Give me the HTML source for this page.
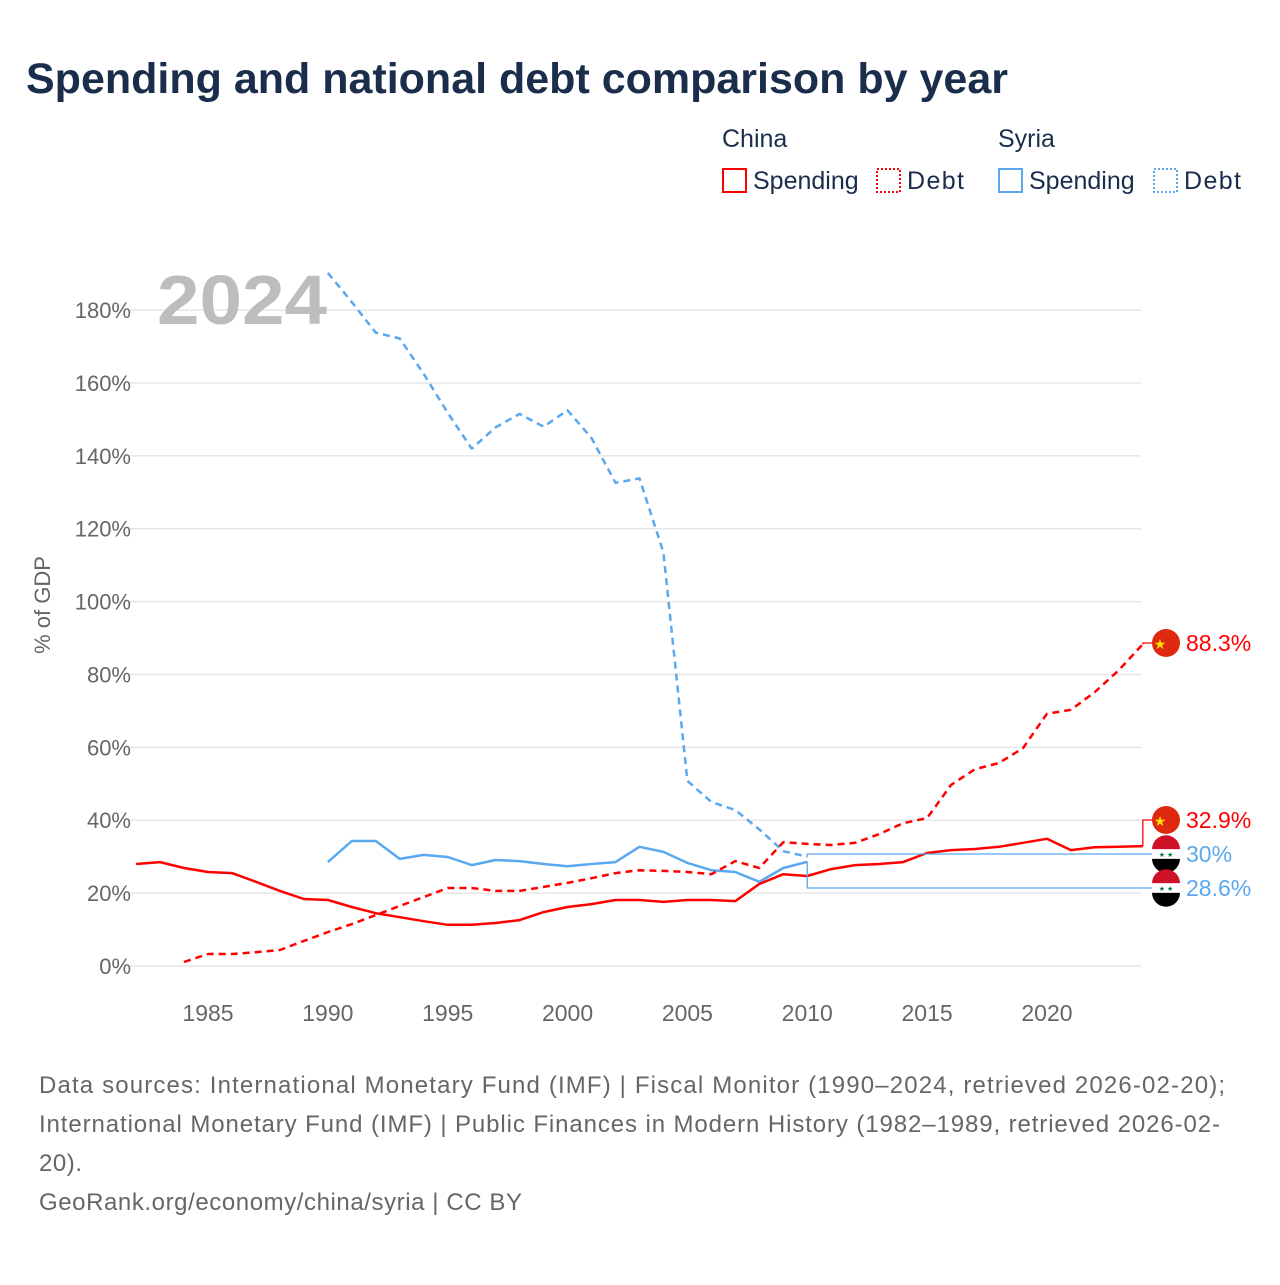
<!DOCTYPE html>
<html><head><meta charset="utf-8"><style>
body{margin:0;background:#fff;font-family:"Liberation Sans",sans-serif;}
svg text{font-family:"Liberation Sans",sans-serif;}
</style></head><body>
<svg width="1280" height="1280" viewBox="0 0 1280 1280" xmlns="http://www.w3.org/2000/svg">
<text x="26" y="93" font-size="43" font-weight="bold" fill="#1a2e4c">Spending and national debt comparison by year</text>
<g font-size="25" fill="#1a2e4c">
<text x="722" y="147" fill="#1a2e4c">China</text>
<text x="998" y="147" fill="#1a2e4c">Syria</text>
<g><rect x="723" y="169" width="23" height="23" fill="none" stroke="#f00" stroke-width="2"/><text x="753" y="189" fill="#1a2e4c">Spending</text></g>
<g><rect x="877" y="169" width="23" height="23" fill="none" stroke="#f00" stroke-width="2" stroke-dasharray="2,2"/><text x="907" y="189" fill="#1a2e4c" textLength="57">Debt</text></g>
<g><rect x="999" y="169" width="23" height="23" fill="none" stroke="#5aa8ee" stroke-width="2"/><text x="1029" y="189" fill="#1a2e4c">Spending</text></g>
<g><rect x="1154" y="169" width="23" height="23" fill="none" stroke="#5aa8ee" stroke-width="2" stroke-dasharray="2,2"/><text x="1184" y="189" fill="#1a2e4c" textLength="57">Debt</text></g>
</g>
<g id="grid"></g>
<text x="157" y="324" font-size="70" font-weight="bold" fill="#bdbdbd" textLength="170" lengthAdjust="spacingAndGlyphs">2024</text>
<text transform="translate(50,605) rotate(-90)" text-anchor="middle" font-size="22" fill="#666">% of GDP</text>
<g id="series"></g>
<g id="labels"></g>
<g font-size="24" fill="#666">
<text x="39" y="1093" textLength="1186">Data sources: International Monetary Fund (IMF) | Fiscal Monitor (1990–2024, retrieved 2026-02-20);</text>
<text x="39" y="1132" textLength="1181">International Monetary Fund (IMF) | Public Finances in Modern History (1982–1989, retrieved 2026-02-</text>
<text x="39" y="1171" textLength="43">20).</text>
<text x="39" y="1210" textLength="483">GeoRank.org/economy/china/syria | CC BY</text>
</g>
</svg>
<script>
const yTicks=[0,20,40,60,80,100,120,140,160,180];
const xTicks=[1985,1990,1995,2000,2005,2010,2015,2020];
const chinaSpendStart=1982;
const chinaSpend=[28.0,28.5,26.9,25.8,25.5,23.1,20.6,18.4,18.1,16.2,14.5,13.4,12.3,11.3,11.3,11.8,12.6,14.8,16.2,17.0,18.1,18.1,17.6,18.1,18.1,17.8,22.5,25.2,24.7,26.6,27.7,28.0,28.5,31.0,31.8,32.1,32.7,33.8,34.9,31.8,32.6,32.7,32.9];
const chinaDebtStart=1984;
const chinaDebt=[1.1,3.3,3.3,3.8,4.4,6.9,9.3,11.5,14.0,16.5,18.9,21.4,21.4,20.6,20.6,21.7,22.8,24.1,25.5,26.3,26.1,25.8,25.2,28.8,26.9,34.0,33.5,33.2,33.8,36.2,39.2,40.6,49.7,54.0,55.7,59.8,69.2,70.3,75.2,81.2,88.3];
const syriaStart=1990;
const syriaSpend=[28.5,34.3,34.3,29.4,30.5,29.9,27.7,29.1,28.8,28.0,27.4,28.0,28.5,32.7,31.3,28.3,26.3,25.8,23.1,26.9,28.6];
const syriaDebt=[190.2,182.2,173.8,172.2,162.5,151.8,142.0,147.8,151.5,148.0,152.5,144.9,132.6,133.8,113.5,50.8,45.0,42.8,37.5,31.5,30.0];
const NS='http://www.w3.org/2000/svg';
const X=yr=>208+(yr-1985)*23.97;
const Y=v=>966-v*3.644;
function mk(tag,attrs,parent){const e=document.createElementNS(NS,tag);for(const k in attrs)e.setAttribute(k,attrs[k]);parent.appendChild(e);return e;}
const grid=document.getElementById('grid');
yTicks.forEach(t=>{
 const l=mk('line',{x1:130,x2:1141,y1:Y(t),y2:Y(t),stroke:'#e6e6e6','stroke-width':1.5},grid);
 
 
 const tx=mk('text',{x:131,y:Y(t)+8,'text-anchor':'end','font-size':22,fill:'#666'},grid);
 tx.textContent=t+'%';
 
 
});
xTicks.forEach(t=>{
 const tx=mk('text',{x:X(t),y:1021,'text-anchor':'middle','font-size':23,fill:'#666'},grid);
 tx.textContent=t;
 
 
});
const ser=document.getElementById('series');
function line(vals,start,color,dash,name){
 const d=vals.map((v,i)=>(i?'L':'M')+X(start+i).toFixed(1)+','+Y(v).toFixed(1)).join('');
 const p=mk('path',{d:d,fill:'none',stroke:color,'stroke-width':2.5,'stroke-linejoin':'round'},ser);
 if(dash)p.setAttribute('stroke-dasharray',dash);
 
 
}
line(syriaDebt,syriaStart,'#5aa8ee','7,5','syria-debt-line');
line(syriaSpend,syriaStart,'#5aa8ee',null,'syria-spending-line');
line(chinaDebt,chinaDebtStart,'#f00','7,5','china-debt-line');
line(chinaSpend,chinaSpendStart,'#f00',null,'china-spending-line');
const lab=document.getElementById('labels');
function endLabel(val,start,arr,ly,color,flag,name){
 const xe=X(start+arr.length-1), ye=Y(val);
 const c=mk('path',{d:`M${xe},${ye}L${xe},${ly}L1152,${ly}`,fill:'none',stroke:color,'stroke-width':1.3},lab);
 
 
 const g=mk('g',{},lab);
 
 
 if(flag==='cn'){
  mk('circle',{cx:1166,cy:ly,r:14,fill:'#de2910'},g);
  const s=mk('text',{x:1160,y:ly+6,'text-anchor':'middle','font-size':14,fill:'#ffde00'},g);s.textContent='★';
 }else{
  mk('path',{d:`M1152,${ly-4.7}A14,14 0 0 1 1180,${ly-4.7}Z`,fill:'#ce1126'},g);
  mk('path',{d:`M1152,${ly+4.7}A14,14 0 0 0 1180,${ly+4.7}Z`,fill:'#000'},g);
  mk('rect',{x:1152,y:ly-4.7,width:28,height:9.4,fill:'#fff'},g);
  const s=mk('text',{x:1166,y:ly+3,'text-anchor':'middle','font-size':7,fill:'#007a3d'},g);s.textContent='★ ★';
 }
 const t=mk('text',{x:1186,y:ly+8,'font-size':23,fill:color},lab);
 t.textContent=(Math.round(val*10)/10)+'%';
 
 
}
endLabel(chinaDebt[chinaDebt.length-1],chinaDebtStart,chinaDebt,643,'#f00','cn','china-debt');
endLabel(chinaSpend[chinaSpend.length-1],chinaSpendStart,chinaSpend,820,'#f00','cn','china-spending');
endLabel(syriaDebt[syriaDebt.length-1],syriaStart,syriaDebt,854,'#5aa8ee','sy','syria-debt');
endLabel(syriaSpend[syriaSpend.length-1],syriaStart,syriaSpend,888,'#5aa8ee','sy','syria-spending');
</script>
</body></html>
